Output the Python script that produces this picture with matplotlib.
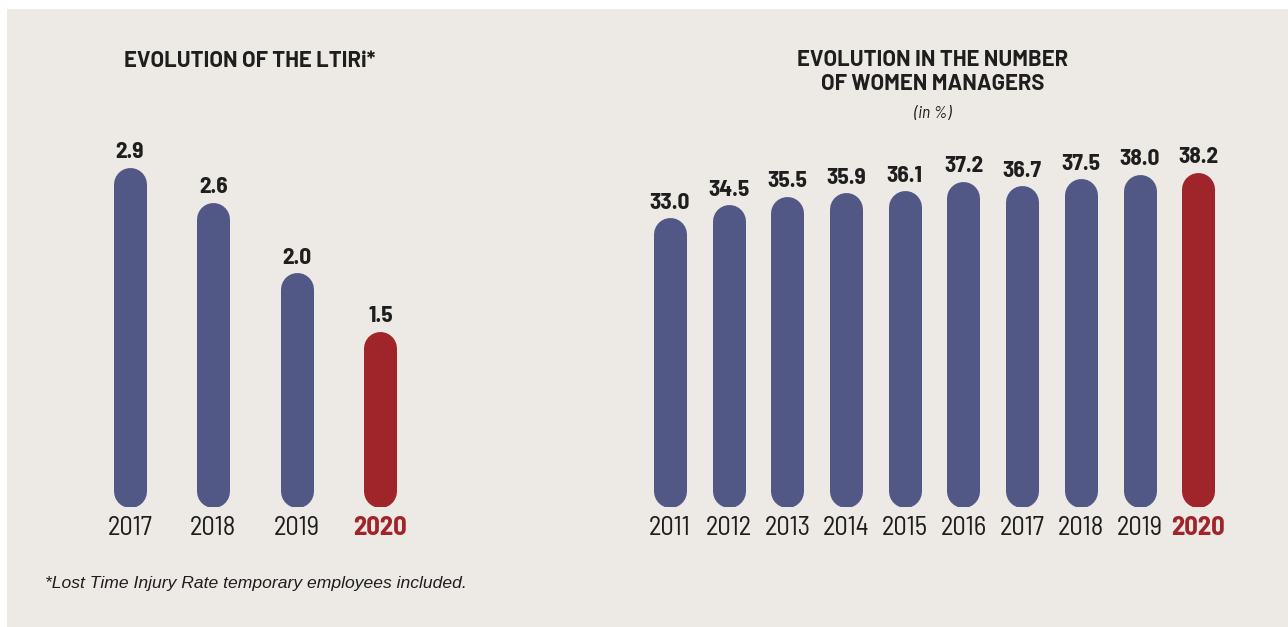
import matplotlib
matplotlib.use('Agg')
import matplotlib.pyplot as plt
from matplotlib.patches import Rectangle

# data
ltir_years = ['2017', '2018', '2019', '2020']
ltir_values = [2.9, 2.6, 2.0, 1.5]

women_years = ['2011', '2012', '2013', '2014', '2015', '2016', '2017', '2018', '2019', '2020']
women_values = [33.0, 34.5, 35.5, 35.9, 36.1, 37.2, 36.7, 37.5, 38.0, 38.2]

BG = '#EDEAE5'
NAVY = '#525886'
RED = '#A0252B'
TXT = '#1E1E1E'

W, H, DPI = 1288, 627, 100

# DIN-like faces, with fallbacks
NUM = ['Barlow Semi Condensed', 'Roboto Condensed', 'Roboto', 'DejaVu Sans']
HEAD = ['Barlow', 'Roboto', 'DejaVu Sans']
SANS = ['Liberation Sans', 'DejaVu Sans']


def px(x, y):
    # pixel (from top-left) -> figure fraction
    return x / W, 1 - y / H


fig = plt.figure(figsize=(W / DPI, H / DPI), dpi=DPI)
fig.patch.set_facecolor('white')
fig.add_artist(Rectangle((7 / W, 0), 1, 1 - 9 / H, transform=fig.transFigure,
                         facecolor=BG, edgecolor='none', zorder=0))


def bar_panel(x0, x1, base, top, px_per_unit, years, values):
    left, bottom = px(x0, base)
    ax = fig.add_axes([left, bottom, (x1 - x0) / W, (base - top) / H])
    ax.set_xlim(-0.5, len(years) - 0.5)
    ax.set_ylim(0, (base - top) / px_per_unit)
    ax.axis('off')
    bar_px = 33
    r = bar_px / 2 / px_per_unit
    for i, (yr, v) in enumerate(zip(years, values)):
        last = i == len(years) - 1
        col = RED if last else NAVY
        # pill shaped bar: thick line with round caps
        ax.plot([i, i], [r, v - r], color=col, lw=bar_px * 72 / DPI,
                solid_capstyle='round')
        ax.annotate(f'{v:.1f}', (i, v), xytext=(0, 9 * 72 / DPI),
                    textcoords='offset points', ha='center', va='baseline',
                    fontsize=16.8, fontweight='bold', family=NUM, color=TXT)
        ax.annotate(yr, (i, 0), xytext=(0, -28 * 72 / DPI),
                    textcoords='offset points', ha='center', va='baseline',
                    fontsize=19.2, family=NUM,
                    fontweight='bold' if last else 'normal',
                    color=RED if last else TXT)
    return ax


bar_panel(88, 422, 507, 100, 117.2, ltir_years, ltir_values)
bar_panel(640.6, 1227.6, 507, 100, 8.76, women_years, women_values)

# titles
fig.text(*px(250, 67), 'EVOLUTION OF THE LTIRi*', ha='center', va='baseline',
         fontsize=15.8, fontweight='bold', family=HEAD, color=TXT)
fig.text(*px(933, 66.5), 'EVOLUTION IN THE NUMBER', ha='center', va='baseline',
         fontsize=15.8, fontweight='bold', family=HEAD, color=TXT)
fig.text(*px(933, 89.5), 'OF WOMEN MANAGERS', ha='center', va='baseline',
         fontsize=15.8, fontweight='bold', family=HEAD, color=TXT)
fig.text(*px(933, 118), '(in %)', ha='center', va='baseline',
         fontsize=12.5, style='italic', family=NUM, color=TXT)

# footnote
fig.text(*px(45, 588), '*Lost Time Injury Rate temporary employees included.',
         ha='left', va='baseline', fontsize=12.6, style='italic', family=SANS,
         color=TXT)

fig.savefig('out.png', dpi=DPI, facecolor=fig.get_facecolor())
plt.close(fig)
